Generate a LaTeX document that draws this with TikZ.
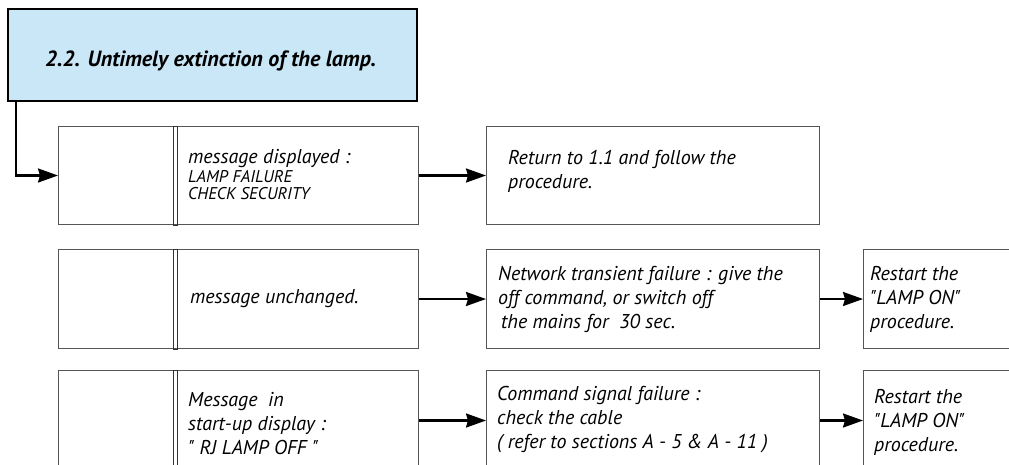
\documentclass[tikz,border=0pt]{standalone}
\usepackage{fontspec}
\newfontfamily\flowfont{PT Sans}
\usepackage{tikz}
\usetikzlibrary{arrows.meta, positioning}
\definecolor{headblue}{RGB}{201,231,247}
\definecolor{boxgray}{RGB}{85,85,85}
\tikzset{
  headbox/.style={draw=black, line width=1.8pt, fill=headblue, minimum width=409pt,
      minimum height=92pt, inner sep=0pt, anchor=north west},
  stepbox/.style={draw=boxgray, line width=1pt, minimum height=#1, inner sep=0pt},
  divline/.style={draw=black!80, line width=0.9pt},
  myarrow/.style={-{Stealth[length=20pt, width=14pt, inset=2pt]}, line width=2.2pt, black},
  headtxt/.style={font=\flowfont\bfseries\itshape\fontsize{22}{26}\selectfont,
      inner sep=0pt, anchor=west},
  mytxt/.style={font=\flowfont\itshape\fontsize{20}{24}\selectfont, align=left,
      inner sep=0pt, anchor=west},
}
\newcommand{\smallcaps}[1]{{\fontsize{17}{19}\selectfont #1}}

\begin{document}
\begin{tikzpicture}[x=1pt, y=-1pt]
  \useasboundingbox (0,0) rectangle (1009,464);
  \clip (0,0) rectangle (1009,464);
  % header
  \node[headbox] (head) at (7,8) {};
  \node[headtxt] (headlbl) at ([xshift=38pt, yshift=-6pt]head.west) {2.2. Untimely extinction of the lamp.};
  % row 1
  \node[stepbox=98pt, minimum width=360pt, anchor=north west] (msgA) at (58,126) {};
  \node[stepbox=98pt, minimum width=333pt, right=67pt of msgA] (actA) {};
  % row 2
  \node[stepbox=99pt, minimum width=360pt, below=24pt of msgA] (msgB) {};
  \node[stepbox=99pt, minimum width=333pt, right=67pt of msgB] (actB) {};
  \node[stepbox=99pt, minimum width=147pt, right=43pt of actB] (endB) {};
  % row 3
  \node[stepbox=100pt, minimum width=360pt, below=21pt of msgB] (msgC) {};
  \node[stepbox=100pt, minimum width=333pt, right=67pt of msgC] (actC) {};
  \node[stepbox=100pt, minimum width=147pt, right=43pt of actC] (endC) {};
  \foreach \r in {msgA,msgB,msgC}
    \draw[divline] ([xshift=115pt]\r.north west) rectangle ([xshift=119pt]\r.south west);
  % texts
  \node[mytxt] (msgAlbl) at ([xshift=130pt, yshift=1pt]msgA.west) {message displayed :\\[-5pt]\smallcaps{LAMP FAILURE}\\[-7pt]\smallcaps{CHECK SECURITY}};
  \node[mytxt] (actAlbl) at ([xshift=22pt, yshift=4pt]actA.west) {Return to 1.1 and follow the\\procedure.};
  \node[mytxt] (msgBlbl) at ([xshift=132pt]msgB.west) {message unchanged.};
  \node[mytxt] (actBlbl) at ([xshift=12pt]actB.west) {Network transient failure : give the\\off command, or switch off\\\hspace{3pt}the mains for~ 30 sec.};
  \node[mytxt] (endBlbl) at ([xshift=7pt]endB.west) {Restart the\\"LAMP ON"\\procedure.};
  \node[mytxt] (msgClbl) at ([xshift=130pt, yshift=-3pt]msgC.west) {Message~ in\\start-up display :\\" RJ LAMP OFF "};
  \node[mytxt] (actClbl) at ([xshift=11pt, yshift=1pt]actC.west) {Command signal failure :\\check the cable\\( refer to sections A - 5 \& A - 11 )};
  \node[mytxt] (endClbl) at ([xshift=11pt, yshift=-2pt]endC.west) {Restart the\\"LAMP ON"\\procedure.};
  % connectors
  \draw[myarrow] ([xshift=9pt]head.south west) |- (msgA.west);
  \draw[myarrow] (msgA) -- (actA);
  \draw[myarrow] (msgB) -- (actB);
  \draw[myarrow] (actB) -- (endB);
  \draw[myarrow] (msgC) -- (actC);
  \draw[myarrow] (actC) -- (endC);
\end{tikzpicture}
\end{document}
